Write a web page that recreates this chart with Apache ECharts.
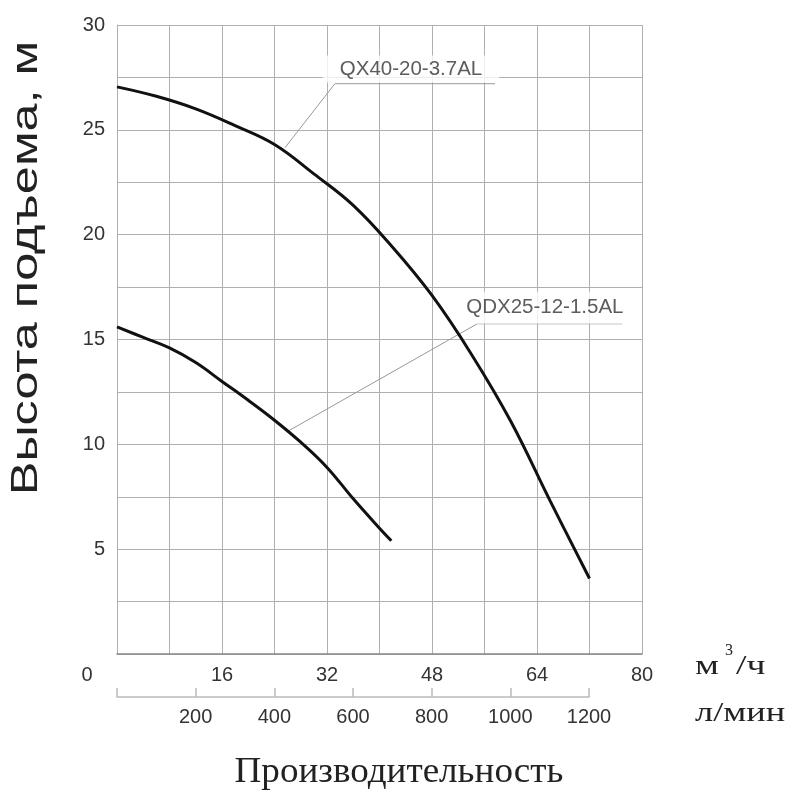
<!DOCTYPE html>
<html>
<head>
<meta charset="utf-8">
<script src="https://cdn.jsdelivr.net/npm/echarts@6/dist/echarts.min.js"></script>
<style>
    html, body { margin: 0; background: #fff; }
    #chart { width: 800px; height: 800px; }
</style>
</head>
<body>
<div id="chart"></div>
<script>
// расход, м3/ч и напор, м
var flowQX = [0, 6, 12, 18, 24, 30, 36, 42, 48, 54, 60, 66, 72];
var headQX = [27.05, 26.6, 26.0, 25.2, 24.3, 22.9, 21.4, 19.4, 17.1, 14.3, 11.1, 7.3, 3.6];
var flowQDX = [0, 4, 8, 12, 16, 20, 24, 28, 32, 36, 40, 41.8];
var headQDX = [15.6, 15.1, 14.6, 13.9, 13.0, 12.1, 11.15, 10.1, 8.9, 7.4, 6.0, 5.4];
var namesPump = ['QX40-20-3.7AL', 'QDX25-12-1.5AL'];
// ось л/мин
var litersTicks = [0, 200, 400, 600, 800, 1000, 1200];

// выноски (в координатах графика)
var leaderQX = [[25.6, 24.15], [33.2, 27.2], [57.6, 27.2]];
var leaderQDX = [[25.9, 10.6], [54.9, 15.75], [77.0, 15.75]];
var labelQX = [44.8, 27.9];
var labelQDX = [65.2, 16.52];

function zip(xs, ys) {
    var out = [];
    for (var i = 0; i < xs.length; i++) {
        out.push([xs[i], ys[i]]);
    }
    return out;
}

var sans = '"Liberation Sans", Arial, sans-serif';
var serif = '"Liberation Serif", "Times New Roman", serif';

var myChart = echarts.init(document.getElementById('chart'));

var option = {
    animation: false,
    backgroundColor: '#fff',
    grid: [
        { left: 117, right: 158, top: 25, bottom: 146 },
        { left: 117, right: 211, top: 689, height: 8 }
    ],
    xAxis: [{
        gridIndex: 0,
        type: 'value',
        min: 0,
        max: 80,
        interval: 8,
        axisLine: { show: true, lineStyle: { color: '#888', width: 1.5 } },
        axisTick: { show: false },
        splitLine: { show: true, lineStyle: { color: '#b0b0b0', width: 1 } },
        axisLabel: {
            margin: 11,
            fontFamily: sans,
            fontSize: 20,
            color: '#333',
            formatter: function (v) {
                if (v === 0) return '{z|0}';
                return v % 16 === 0 ? String(v) : '';
            },
            rich: {
                z: { fontFamily: sans, fontSize: 20, color: '#333', padding: [0, 60, 0, 0] }
            }
        }
    }, {
        gridIndex: 1,
        type: 'value',
        min: litersTicks[0],
        max: litersTicks[litersTicks.length - 1],
        interval: litersTicks[1] - litersTicks[0],
        axisLine: { show: true, lineStyle: { color: '#bbb', width: 1.5 } },
        axisTick: { show: true, inside: true, length: 9, lineStyle: { color: '#bbb', width: 1.5 } },
        splitLine: { show: false },
        axisLabel: {
            margin: 10,
            fontFamily: sans,
            fontSize: 20,
            color: '#333',
            formatter: function (v) { return v === 0 ? '' : String(v); }
        }
    }],
    yAxis: [{
        gridIndex: 0,
        type: 'value',
        min: 0,
        max: 30,
        interval: 2.5,
        axisLine: { show: true, lineStyle: { color: '#b0b0b0', width: 1 } },
        axisTick: { show: false },
        splitLine: { show: true, lineStyle: { color: '#b0b0b0', width: 1 } },
        axisLabel: {
            margin: 12,
            fontFamily: sans,
            fontSize: 20,
            color: '#333',
            formatter: function (v) {
                return (v !== 0 && v % 5 === 0) ? String(v) : '';
            }
        }
    }, {
        gridIndex: 1,
        type: 'value',
        show: false
    }],
    series: [
        {
            name: 'leaderQX',
            type: 'line',
            data: leaderQX,
            symbol: 'none',
            z: 2,
            lineStyle: { color: '#999', width: 1 }
        },
        {
            name: 'leaderQDX',
            type: 'line',
            data: leaderQDX,
            symbol: 'none',
            z: 2,
            lineStyle: { color: '#999', width: 1 }
        },
        {
            name: namesPump[0],
            type: 'line',
            data: zip(flowQX, headQX),
            smooth: 0.4,
            symbol: 'none',
            z: 5,
            lineStyle: { color: '#111', width: 3 }
        },
        {
            name: namesPump[1],
            type: 'line',
            data: zip(flowQDX, headQDX),
            smooth: 0.4,
            symbol: 'none',
            z: 5,
            lineStyle: { color: '#111', width: 3 }
        },
        {
            name: 'labels',
            type: 'scatter',
            symbolSize: 0,
            z: 3,
            data: [
                {
                    value: labelQX,
                    label: {
                        show: true, position: 'inside', formatter: namesPump[0],
                        backgroundColor: '#fff', padding: [3, 17, 3, 17]
                    }
                },
                {
                    value: labelQDX,
                    label: {
                        show: true, position: 'inside', formatter: namesPump[1],
                        backgroundColor: '#fff', padding: [7, 5, 4, 5]
                    }
                }
            ],
            label: { fontFamily: sans, fontSize: 20.5, color: '#333' }
        }
    ],
    graphic: [
        {
            type: 'text',
            x: 27,
            y: 268,
            rotation: Math.PI / 2,
            scaleX: 1.4,
            style: {
                text: 'Высота подъема, м',
                fontFamily: sans,
                fontSize: 36,
                fill: '#222',
                textAlign: 'center',
                textVerticalAlign: 'middle'
            }
        },
        {
            type: 'text',
            x: 399,
            y: 773,
            scaleX: 1.06,
            style: {
                text: 'Производительность',
                fontFamily: serif,
                fontSize: 35,
                fill: '#222',
                textAlign: 'center',
                textVerticalAlign: 'middle'
            }
        },
        {
            type: 'text',
            x: 695,
            y: 667,
            scaleX: 1.35,
            style: { text: 'м', fontFamily: serif, fontSize: 28, fill: '#222', textVerticalAlign: 'middle' }
        },
        {
            type: 'text',
            x: 725,
            y: 651,
            style: { text: '3', fontFamily: serif, fontSize: 16, fill: '#222', textVerticalAlign: 'middle' }
        },
        {
            type: 'text',
            x: 736,
            y: 667,
            scaleX: 1.35,
            style: { text: '/ч', fontFamily: serif, fontSize: 28, fill: '#222', textVerticalAlign: 'middle' }
        },
        {
            type: 'text',
            x: 695,
            y: 714,
            scaleX: 1.3,
            style: { text: 'л/мин', fontFamily: serif, fontSize: 28, fill: '#222', textVerticalAlign: 'middle' }
        }
    ]
};

myChart.setOption(option);
</script>
</body>
</html>
